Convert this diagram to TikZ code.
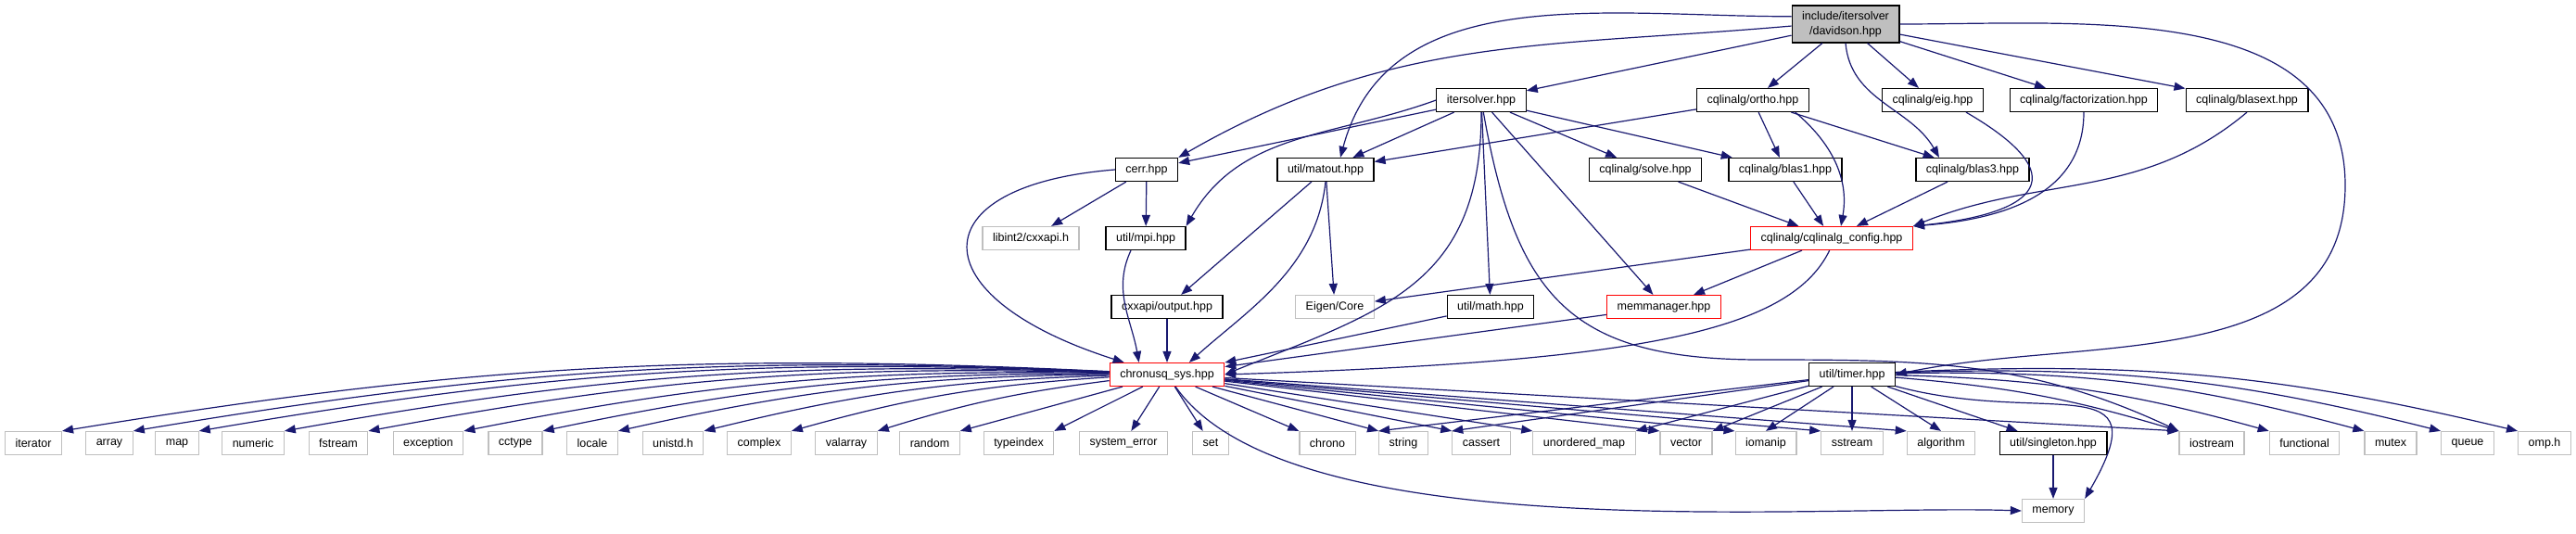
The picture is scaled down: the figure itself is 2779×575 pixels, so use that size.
\documentclass[tikz,border=0pt]{standalone}
\usepackage{fontspec}
\setmainfont{Liberation Sans}
\usepackage{tikz}
\usetikzlibrary{arrows.meta}
\definecolor{depblue}{RGB}{25,25,112}
\definecolor{extgray}{RGB}{191,191,191}

\begin{document}
\begin{tikzpicture}[
  x=0.5pt, y=0.5pt,
  every node/.style={font=\fontsize{6.25pt}{8pt}\selectfont},
  docfile/.style={rectangle, draw=black, line width=0.6pt, fill=white,
    minimum height=12.5pt, inner xsep=5.5pt, inner ysep=1pt},
  sysfile/.style={docfile, draw=extgray},
  redfile/.style={docfile, draw=red},
  rootfile/.style={docfile, fill=extgray, align=center, minimum height=20pt},
  dep/.style={-{Triangle[length=6pt,width=4.5pt]}, draw=depblue, line width=0.6pt}
]
\useasboundingbox (0,0) rectangle (2779,-575);

% File being documented
\node[rootfile] (dav) at (1991,-26) {include/itersolver\\/davidson.hpp};

% Project headers
\node[docfile] (iters)   at (1598,-108) {itersolver.hpp};
\node[docfile] (ortho)   at (1891,-108) {cqlinalg/ortho.hpp};
\node[docfile] (eig)     at (2085,-108) {cqlinalg/eig.hpp};
\node[docfile] (fact)    at (2248,-108) {cqlinalg/factorization.hpp};
\node[docfile] (blasext) at (2424,-108) {cqlinalg/blasext.hpp};

\node[docfile] (cerr)    at (1237,-183) {cerr.hpp};
\node[docfile] (matout)  at (1430,-183) {util/matout.hpp};
\node[docfile] (solve)   at (1775,-183) {cqlinalg/solve.hpp};
\node[docfile] (blas1)   at (1926,-183) {cqlinalg/blas1.hpp};
\node[docfile] (blas3)   at (2128,-183) {cqlinalg/blas3.hpp};

\node[sysfile] (libint)  at (1112,-257) {libint2/cxxapi.h};
\node[docfile] (mpi)     at (1236,-257) {util/mpi.hpp};
\node[redfile] (cfg)     at (1976,-257) {cqlinalg/cqlinalg\_config.hpp};

\node[docfile] (output)  at (1259,-331) {cxxapi/output.hpp};
\node[sysfile] (eigen)   at (1440,-331) {Eigen/Core};
\node[docfile] (mathh)   at (1608,-331) {util/math.hpp};
\node[redfile] (memmgr)  at (1795,-331) {memmanager.hpp};

\node[redfile] (sys)     at (1259,-404) {chronusq\_sys.hpp};
\node[docfile] (timer)   at (1998,-404) {util/timer.hpp};

% Standard library row
\node[sysfile] (iterator)  at (36,-478)   {iterator};
\node[sysfile] (array)     at (118,-478)  {array};
\node[sysfile] (map)       at (191,-478)  {map};
\node[sysfile] (numeric)   at (273,-478)  {numeric};
\node[sysfile] (fstream)   at (365,-478)  {fstream};
\node[sysfile] (exception) at (462,-478)  {exception};
\node[sysfile] (cctype)    at (556,-478)  {cctype};
\node[sysfile] (locale)    at (639,-478)  {locale};
\node[sysfile] (unistd)    at (726,-478)  {unistd.h};
\node[sysfile] (complex)   at (819,-478)  {complex};
\node[sysfile] (valarray)  at (913,-478)  {valarray};
\node[sysfile] (random)    at (1003,-478) {random};
\node[sysfile] (typeindex) at (1099,-478) {typeindex};
\node[sysfile] (syserr)    at (1212,-478) {system\_error};
\node[sysfile] (set)       at (1306,-478) {set};
\node[sysfile] (chrono)    at (1432,-478) {chrono};
\node[sysfile] (string)    at (1514,-478) {string};
\node[sysfile] (cassert)   at (1598,-478) {cassert};
\node[sysfile] (umap)      at (1709,-478) {unordered\_map};
\node[sysfile] (vector)    at (1819,-478) {vector};
\node[sysfile] (iomanip)   at (1905,-478) {iomanip};
\node[sysfile] (sstream)   at (1998,-478) {sstream};
\node[sysfile] (algorithm) at (2094,-478) {algorithm};
\node[docfile] (singleton) at (2215,-478) {util/singleton.hpp};
\node[sysfile] (iostream)  at (2386,-478) {iostream};
\node[sysfile] (functional) at (2486,-478) {functional};
\node[sysfile] (mutex)     at (2579,-478) {mutex};
\node[sysfile] (queue)     at (2662,-478) {queue};
\node[sysfile] (omp)       at (2745,-478) {omp.h};
\node[sysfile] (memory)    at (2215,-551) {memory};

% Bend points
\coordinate (tbend)  at (2530,-200);
\coordinate (iobend) at (1900,-388);

% davidson.hpp
\draw[dep] (dav) -- (iters);
\draw[dep] (dav.182) to[out=185,in=30] (cerr.north east);
\draw[dep] (dav.172) to[out=180,in=75] ([xshift=8pt]matout.north);
\draw[dep] (dav) -- (ortho);
\draw[dep] (dav) -- (eig);
\draw[dep] (dav) -- (fact);
\draw[dep] (dav) -- (blasext);
\draw[dep] (dav.south) to[out=-85,in=120] (blas3.160);
\draw[dep] (dav.east) to[out=0,in=90] (tbend) to[out=-90,in=12] (timer.east);

% itersolver.hpp
\draw[dep] (iters) -- (cerr);
\draw[dep] (iters.west) to[out=200,in=60] (mpi.north east);
\draw[dep] (iters) -- (matout);
\draw[dep] (iters) -- (solve);
\draw[dep] (iters) -- (blas1);
\draw[dep] (iters.south) to[out=-90,in=22,looseness=1.2] (sys.east);
\draw[dep] (iters) -- (mathh);
\draw[dep] (iters) -- (memmgr);
\draw[dep] (iters.-80) to[out=-80,in=180,looseness=1.3] (iobend) to[out=0,in=155] (iostream.north west);

% cqlinalg headers
\draw[dep] (ortho) -- (matout);
\draw[dep] (ortho) -- (blas1);
\draw[dep] (ortho) -- (blas3);
\draw[dep] (ortho.-16) to[out=-40,in=80] ([xshift=5pt]cfg.north);
\draw[dep] (eig.-20) .. controls (2240,-190) and (2200,-230) .. (cfg.north east);
\draw[dep] (fact.south) .. controls (2248,-200) and (2180,-235) .. (cfg.north east);
\draw[dep] (blasext.south) to[out=-140,in=22] (cfg.north east);
\draw[dep] (solve) -- (cfg);
\draw[dep] (blas1) -- (cfg);
\draw[dep] (blas3) -- (cfg);
\draw[dep] (cfg) -- (eigen);
\draw[dep] (cfg) -- (memmgr);
\draw[dep] (cfg.-100) .. controls (1930,-360) and (1760,-390) .. (sys.east);

% util headers
\draw[dep] (cerr) -- (libint);
\draw[dep] (cerr) -- (mpi);
\draw[dep] (cerr.west) .. controls (990,-200) and (990,-320) .. ([xshift=8pt]sys.north west);
\draw[dep] ([xshift=-8pt]mpi.south) to[out=-115,in=100] ([xshift=16pt]sys.north west);
\draw[dep] (matout) -- (output);
\draw[dep] (matout.south) .. controls (1420,-290) and (1345,-335) .. ([xshift=12pt]sys.north);
\draw[dep] (matout) -- (eigen);
\draw[dep] (output) -- (sys);
\draw[dep] (mathh) -- (sys);
\draw[dep] (memmgr) -- (sys);

% chronusq_sys.hpp
\draw[dep] (sys) to[bend right=6] (iterator.north east);
\draw[dep] (sys) to[bend right=6] (array.north east);
\draw[dep] (sys) to[bend right=6] (map.north east);
\draw[dep] (sys) to[bend right=6] (numeric.north east);
\draw[dep] (sys) to[bend right=6] (fstream.north east);
\draw[dep] (sys) to[bend right=6] (exception.north east);
\draw[dep] (sys) to[bend right=6] (cctype.north east);
\draw[dep] (sys) to[bend right=6] (locale.north east);
\draw[dep] (sys) to[bend right=6] (unistd.north east);
\draw[dep] (sys) to[bend right=6] (complex.north east);
\draw[dep] (sys) to[bend right=5] (valarray.north east);
\draw[dep] (sys) -- (random.north east);
\draw[dep] (sys) -- (typeindex.north east);
\draw[dep] (sys) -- (syserr);
\draw[dep] (sys) -- (set);
\draw[dep] (sys) -- (chrono.north west);
\draw[dep] (sys) -- (string.north west);
\draw[dep] (sys) -- (cassert.north west);
\draw[dep] (sys) -- (umap.north west);
\draw[dep] (sys) -- (vector.north west);
\draw[dep] (sys) -- (iomanip.north west);
\draw[dep] (sys) -- (sstream.north west);
\draw[dep] (sys) -- (algorithm.north west);
\draw[dep] (sys) -- (iostream.north west);
\draw[dep] (sys) to[out=-55,in=178,looseness=0.6] (memory.west);

% util/timer.hpp
\draw[dep] (timer) -- (string.north west);
\draw[dep] (timer) -- (cassert.north west);
\draw[dep] (timer) -- (umap.north east);
\draw[dep] (timer) -- (vector.north east);
\draw[dep] (timer) -- (iomanip.north);
\draw[dep] (timer) -- (sstream.north);
\draw[dep] (timer) -- (algorithm.north);
\draw[dep] (timer) -- (singleton);
\draw[dep] (timer) to[bend left=6] (iostream.north west);
\draw[dep] (timer) to[bend left=7] (functional.north west);
\draw[dep] (timer) to[bend left=8] (mutex.north west);
\draw[dep] (timer) to[bend left=8] (queue.north west);
\draw[dep] (timer) to[bend left=8] (omp.north west);
\draw[dep] (timer) to[out=-15,in=60,looseness=1.8] (memory.north east);
\draw[dep] (singleton) -- (memory);

\end{tikzpicture}
\end{document}
